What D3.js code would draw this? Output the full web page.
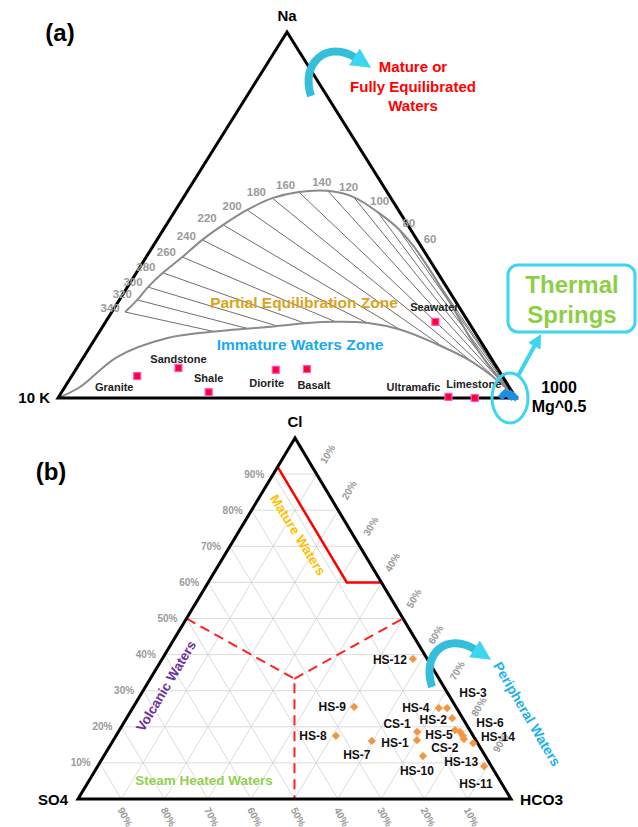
<!DOCTYPE html>
<html><head><meta charset="utf-8">
<script src="https://cdn.jsdelivr.net/npm/d3@7"></script>
<style>
body{margin:0;background:#fff}
svg{display:block}
text{font-family:Arial,"Liberation Sans",sans-serif}
</style>
</head><body>
<svg id="c" width="638" height="827"></svg>
<script>
// ---------------- DATA (a) Na-K-Mg (percent, Mg = 100 - Na - K) ----------------
const rockNames = ["Granite","Sandstone","Shale","Diorite","Basalt","Seawater","Ultramafic","Limestone"];
const rockNa = [6.0, 8.2, 1.6, 7.7, 7.9, 20.8, 0.3, 0.0];
const rockK  = [79.7, 69.6, 66.3, 48.6, 41.7, 7.2, 14.6, 9.0];
const rockLabelDx = [-23, 0, 0, -9, 7, -1, -35, -1];
const rockLabelDy = [11, -9, -14, 13, 16, -15, -10, -14];

const isoTemps = ["340","320","300","280","260","240","220","200","180","160","140","120","100","80","60"];
const isoNa = [23.5,26.8,30.3,34.2,38.5,43.2,47.3,51.4,54.6,56.3,56.6,54.9,50.8,46.4,41.3];
const isoK  = [73.6,69.3,65.2,60.0,53.6,46.9,40.3,33.0,25.9,19.3,12.8,8.0,4.8,2.6,1.6];
const isoLabelDx = [-15,-15,-15,-17,-16,-16,-16,-15,-16,-13,-6,-5,2,11,16];
const isoLabelDy = [-4,-6,-5,-6,-5,-4,-7,-4,-6,-7,-9,-10,-11,-5,-8];

const fullEqTailNa = [34.4, 25.4, 15.8, 7.7, 0];
const fullEqTailK  = [1.3, 1.4, 1.8, 1.4, 0];

const immatureNa = [0, 3.0, 11.2, 16.4, 18.3, 19.4, 20.5, 20.8, 20.5, 18.6, 15.0, 10.4, 4.9, 0];
const immatureK  = [100, 93.7, 81.5, 67.9, 55.4, 44.5, 35.2, 29.4, 22.0, 15.7, 10.3, 5.1, 1.7, 0];

const springNa = [0.5, 1.0, 1.5, 0.8, 0.3, 1.2, 0.6, 0.2];
const springK  = [2.8, 2.2, 1.6, 1.2, 0.8, 0.6, 0.3, 0.1];

// ---------------- DATA (b) Cl-SO4-HCO3 (percent) ----------------
const sampleNames = ["HS-12","HS-9","HS-4","HS-3","HS-2","HS-6","HS-5","CS-2","HS-14","HS-13","HS-11","CS-1","HS-1","HS-7","HS-8","HS-10"];
const sampleCl   = [38.8,25.5,25.2,25.2,22.4,19.1,18.6,17.5,16.6,15.5,9.1,18.6,16.3,16.1,17.5,11.9];
const sampleSO4  = [3.3,23.5,4.1,2.2,2.4,3.4,2.5,2.4,2.6,1.0,1.7,12.4,13.6,24.1,31.7,14.4];
const sampleHCO3 = [57.9,51.0,70.7,72.6,75.2,77.5,78.9,80.1,80.8,83.5,89.2,69.0,70.1,59.8,50.8,73.7];
const sampleLabelDx = [-23,-22,-23,26,-19,35,-21,-18,34,-12,-8,-20,-22,-15,-23,-6];
const sampleLabelDy = [1,0,0,-15,2,-7,3,12,-2,19,18,-8,3,14,0,15];

const tickValues = [10,20,30,40,50,60,70,80,90];
const tickLabels = ["10%","20%","30%","40%","50%","60%","70%","80%","90%"];

// zone boundaries (Cl, HCO3)
const matureCl   = [92, 60, 60];
const matureHCO3 = [0, 32, 40];
const dashCl   = [50, 33.3, 0];
const dashHCO3 = [0, 33.3, 50];
const dash2Cl   = [33.3, 50];
const dash2HCO3 = [33.3, 50];

// ---------------- helpers ----------------
function ternary(top, left, right){
  const xS = d3.scaleLinear().domain([0,100]).range([left[0], right[0]]);
  const yS = d3.scaleLinear().domain([0,100]).range([left[1], top[1]]);
  const k = (top[0]-left[0])/(right[0]-left[0]);
  return (t, r) => [xS(r + t*k), yS(t)];
}
const svg = d3.select("#c");
const defs = svg.append("defs");
defs.append("marker").attr("id","ah").attr("viewBox","0 0 10 10").attr("refX",1).attr("refY",5)
  .attr("markerWidth",20).attr("markerHeight",20).attr("markerUnits","userSpaceOnUse").attr("orient","auto")
  .append("path").attr("d","M0,0 L10,5 L0,10 Z").attr("fill","#3dd5ef");
defs.append("marker").attr("id","ah2").attr("viewBox","0 0 10 10").attr("refX",1).attr("refY",5)
  .attr("markerWidth",14).attr("markerHeight",14).attr("markerUnits","userSpaceOnUse").attr("orient","auto")
  .append("path").attr("d","M0,0 L10,5 L0,10 Z").attr("fill","#3dd5ef");

const line = d3.line();
const smooth = d3.line().curve(d3.curveCatmullRom.alpha(0.5));
const diamond = d3.symbol(d3.symbolSquare, 34);

// ================= PANEL (a) =================
const pa = ternary([287,32],[58,398],[516,398]); // pa(Na, Mg)
const P = (na,k) => pa(na, 100-na-k);

const immPts = immatureNa.map((n,i)=>P(n, immatureK[i]));
const clipPoly = immPts.concat([[600,398],[600,0],[0,0],[0,398]]);
defs.append("clipPath").attr("id","aboveImm").append("path")
  .attr("d", d3.line().curve(d3.curveLinearClosed)(clipPoly));

const gA = svg.append("g");
const vertexMg = pa(0,100);
gA.append("g").attr("clip-path","url(#aboveImm)").selectAll("line").data(isoTemps).join("line")
  .attr("x1",(d,i)=>P(isoNa[i],isoK[i])[0]).attr("y1",(d,i)=>P(isoNa[i],isoK[i])[1])
  .attr("x2",vertexMg[0]).attr("y2",vertexMg[1])
  .attr("stroke","#6e6e6e").attr("stroke-width",1);
const fullPts = isoNa.map((n,i)=>P(n,isoK[i])).concat(fullEqTailNa.map((n,i)=>P(n,fullEqTailK[i])));
gA.append("path").attr("d",smooth(fullPts)).attr("fill","none").attr("stroke","#8a8a8a").attr("stroke-width",2);
gA.append("path").attr("d",smooth(immPts)).attr("fill","none").attr("stroke","#8a8a8a").attr("stroke-width",2);
gA.append("path").attr("d",line([pa(100,0),pa(0,0),pa(0,100)])+"Z").attr("fill","none")
  .attr("stroke","#000").attr("stroke-width",3).attr("stroke-linejoin","miter");
gA.selectAll("text.iso").data(isoTemps).join("text").attr("class","iso")
  .attr("x",(d,i)=>P(isoNa[i],isoK[i])[0]+isoLabelDx[i])
  .attr("y",(d,i)=>P(isoNa[i],isoK[i])[1]+isoLabelDy[i])
  .attr("dy","0.35em").attr("text-anchor","middle")
  .attr("font-size",11.5).attr("font-weight","bold").attr("fill","#9a9a9a").text(d=>d);
gA.selectAll("rect.rock").data(rockNames).join("rect").attr("class","rock")
  .attr("x",(d,i)=>P(rockNa[i],rockK[i])[0]-3.5).attr("y",(d,i)=>P(rockNa[i],rockK[i])[1]-3.5)
  .attr("width",7).attr("height",7).attr("fill","#ff0033").attr("stroke","#ff55cc").attr("stroke-width",1.2);
gA.selectAll("text.rock").data(rockNames).join("text").attr("class","rock")
  .attr("x",(d,i)=>P(rockNa[i],rockK[i])[0]+rockLabelDx[i])
  .attr("y",(d,i)=>P(rockNa[i],rockK[i])[1]+rockLabelDy[i])
  .attr("dy","0.35em").attr("text-anchor","middle")
  .attr("font-size",11).attr("font-weight","bold").attr("fill","#222").text(d=>d);
gA.selectAll("path.spr").data(springNa).join("path").attr("class","spr")
  .attr("transform",(d,i)=>"translate("+P(springNa[i],springK[i])+") rotate(45)")
  .attr("d",diamond).attr("fill","#1b8fe6");

gA.append("text").attr("x",304).attr("y",303).attr("dy","0.35em").attr("text-anchor","middle")
  .attr("font-size",15.5).attr("font-weight","bold").attr("fill","#dca21c").text("Partial Equilibration Zone");
gA.append("text").attr("x",300).attr("y",345).attr("dy","0.35em").attr("text-anchor","middle")
  .attr("font-size",15.5).attr("font-weight","bold").attr("fill","#1aaaf0").text("Immature Waters Zone");
const mat = gA.append("text").attr("text-anchor","middle").attr("font-size",15).attr("font-weight","bold").attr("fill","#ff0000");
[["Mature or",67],["Fully Equilibrated",87],["Waters",106]].forEach(([t,y])=>mat.append("tspan").attr("x",413).attr("y",y).attr("dy","0.35em").text(t));

gA.append("text").attr("x",287).attr("y",21).attr("text-anchor","middle").attr("font-size",15).attr("font-weight","bold").text("Na");
gA.append("text").attr("x",50).attr("y",403).attr("text-anchor","end").attr("font-size",15).attr("font-weight","bold").text("10 K");
gA.append("text").attr("x",559).attr("y",393).attr("text-anchor","middle").attr("font-size",16).attr("font-weight","bold").text("1000");
gA.append("text").attr("x",559).attr("y",412).attr("text-anchor","middle").attr("font-size",16).attr("font-weight","bold").text("Mg^0.5");
gA.append("text").attr("x",60).attr("y",41).attr("text-anchor","middle").attr("font-size",24).attr("font-weight","600").text("(a)");

gA.append("ellipse").attr("cx",510).attr("cy",398).attr("rx",18).attr("ry",25).attr("fill","none").attr("stroke","#3dd5ef").attr("stroke-width",3);
gA.append("line").attr("x1",518).attr("y1",376).attr("x2",535).attr("y2",345).attr("stroke","#3dd5ef").attr("stroke-width",4).attr("marker-end","url(#ah2)");
gA.append("rect").attr("x",508).attr("y",265).attr("width",127).attr("height",67).attr("rx",10).attr("fill","#fff").attr("stroke","#3dd5ef").attr("stroke-width",3);
gA.append("text").attr("x",572).attr("y",285).attr("dy","0.35em").attr("text-anchor","middle").attr("font-size",24).attr("font-weight","bold").attr("fill","#8ccf45").text("Thermal");
gA.append("text").attr("x",572).attr("y",315).attr("dy","0.35em").attr("text-anchor","middle").attr("font-size",24).attr("font-weight","bold").attr("fill","#8ccf45").text("Springs");
gA.append("path").attr("d","M311,96 C300,62 328,40 356,58").attr("fill","none").attr("stroke","#33bfdc").attr("stroke-width",8).attr("marker-end","url(#ah)");

// ================= PANEL (b) =================
const pb = ternary([295,438],[78,799],[511,799]); // pb(Cl, HCO3)
const gB = svg.append("g");
const gridSegs = [];
tickValues.forEach(v=>{
  gridSegs.push([pb(v,0), pb(v,100-v)]);
  gridSegs.push([pb(0,100-v), pb(100-v,0)]);
  gridSegs.push([pb(0,v), pb(100-v,v)]);
});
gB.append("g").selectAll("path").data(gridSegs).join("path").attr("d",d=>line(d))
  .attr("stroke","#d2d2d2").attr("stroke-width",0.8).attr("fill","none");
gB.append("path").attr("d",line(matureCl.map((c,i)=>pb(c,matureHCO3[i])))).attr("fill","none")
  .attr("stroke","#ff0000").attr("stroke-width",2.5);
gB.append("path").attr("d",line(dashCl.map((c,i)=>pb(c,dashHCO3[i])))).attr("fill","none")
  .attr("stroke","#ff2020").attr("stroke-width",2).attr("stroke-dasharray","10,6");
gB.append("path").attr("d",line(dash2Cl.map((c,i)=>pb(c,dash2HCO3[i])))).attr("fill","none")
  .attr("stroke","#ff2020").attr("stroke-width",2).attr("stroke-dasharray","10,6");
gB.append("path").attr("d",line([pb(100,0),pb(0,0),pb(0,100)])+"Z").attr("fill","none")
  .attr("stroke","#000").attr("stroke-width",3);
gB.selectAll("text.lt").data(tickValues).join("text").attr("class","lt")
  .attr("x",v=>pb(v,0)[0]-9).attr("y",v=>pb(v,0)[1]).attr("dy","0.35em").attr("text-anchor","end")
  .attr("font-size",10).attr("font-weight","bold").attr("fill","#9a9a9a").text((v,i)=>tickLabels[i]);
gB.selectAll("text.bt").data(tickValues).join("text").attr("class","bt")
  .attr("transform",v=>{const p=pb(0,100-v);return "translate("+(p[0]-1)+","+(p[1]+9)+") rotate(62)";})
  .attr("dy","0.35em").attr("text-anchor","start")
  .attr("font-size",10).attr("font-weight","bold").attr("fill","#9a9a9a").text((v,i)=>tickLabels[i]);
gB.selectAll("text.rt").data(tickValues).join("text").attr("class","rt")
  .attr("transform",v=>{const p=pb(100-v,v);return "translate("+(p[0]+11)+","+(p[1]-20)+") rotate(-60)";})
  .attr("dy","0.35em").attr("text-anchor","middle")
  .attr("font-size",10).attr("font-weight","bold").attr("fill","#9a9a9a").text((v,i)=>tickLabels[i]);
gB.append("text").attr("transform","translate(298,535) rotate(58)").attr("dy","0.35em").attr("text-anchor","middle")
  .attr("font-size",13.5).attr("font-weight","bold").attr("fill","#ffc000").text("Mature Waters");
gB.append("text").attr("transform","translate(166,686) rotate(-59)").attr("dy","0.35em").attr("text-anchor","middle")
  .attr("font-size",13.5).attr("font-weight","bold").attr("fill","#7030a0").text("Volcanic Waters");
gB.append("text").attr("x",204).attr("y",780).attr("dy","0.35em").attr("text-anchor","middle")
  .attr("font-size",13.5).attr("font-weight","bold").attr("fill","#92d050").text("Steam Heated Waters");
gB.append("text").attr("transform","translate(527,714) rotate(59.5)").attr("dy","0.35em").attr("text-anchor","middle")
  .attr("font-size",14).attr("font-weight","bold").attr("fill","#1cb2ee").text("Peripheral Waters");
gB.selectAll("path.s").data(sampleNames).join("path").attr("class","s")
  .attr("transform",(d,i)=>"translate("+pb(sampleCl[i],sampleHCO3[i])+") rotate(45)")
  .attr("d",diamond).attr("fill","#f6953f");
gB.selectAll("text.s").data(sampleNames).join("text").attr("class","s")
  .attr("x",(d,i)=>pb(sampleCl[i],sampleHCO3[i])[0]+sampleLabelDx[i])
  .attr("y",(d,i)=>pb(sampleCl[i],sampleHCO3[i])[1]+sampleLabelDy[i])
  .attr("dy","0.35em").attr("text-anchor","middle")
  .attr("font-size",12).attr("font-weight","bold").attr("fill","#111").text(d=>d);
gB.append("text").attr("x",295).attr("y",427).attr("text-anchor","middle").attr("font-size",15).attr("font-weight","bold").text("Cl");
gB.append("text").attr("x",53).attr("y",805).attr("text-anchor","middle").attr("font-size",15).attr("font-weight","bold").text("SO4");
gB.append("text").attr("x",520).attr("y",805).attr("text-anchor","start").attr("font-size",15.5).attr("font-weight","bold").text("HCO3");
gB.append("text").attr("x",51).attr("y",480).attr("text-anchor","middle").attr("font-size",24).attr("font-weight","600").text("(b)");
gB.append("path").attr("d","M432,687 C421,652 448,632 476,650").attr("fill","none").attr("stroke","#33bfdc").attr("stroke-width",8).attr("marker-end","url(#ah)");
</script>
</body></html>
